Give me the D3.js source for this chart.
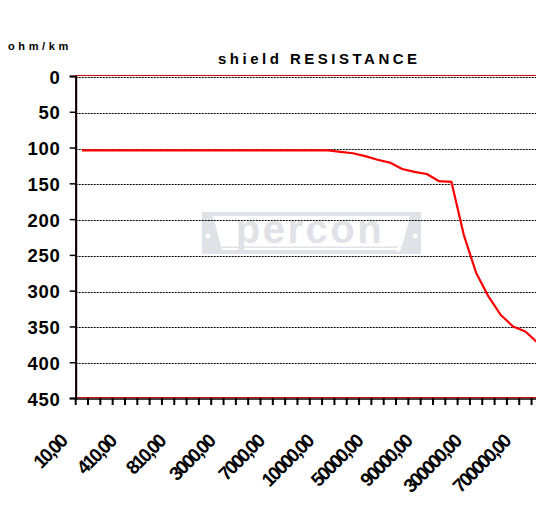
<!DOCTYPE html>
<html>
<head>
<meta charset="utf-8">
<script src="https://cdn.jsdelivr.net/npm/d3@7"></script>
<style>
  html, body { margin: 0; padding: 0; background: #fff; }
  svg { display: block; }
  text { font-family: "Liberation Sans", Arial, sans-serif; font-weight: bold; fill: #000; }
</style>
</head>
<body>
<svg id="chart" width="536" height="508"></svg>
<script>
// ---- data ----
const categories = [10, 110, 210, 310, 410, 510, 610, 710, 810, 900, 1000, 2000, 3000, 4000, 5000, 6000,
  7000, 8000, 9000, 9500, 10000, 20000, 30000, 40000, 50000, 60000, 70000, 80000, 90000,
  100000, 150000, 200000, 300000, 400000, 500000, 600000, 700000, 800000];
const resistance = [104, 104, 104, 104, 104, 104, 104, 104, 104, 104, 104, 104, 104, 104, 104, 104,
  104, 104, 104, 104, 104, 106, 108, 112, 117, 121, 130, 134, 137, 147, 148,
  222, 275, 308, 334, 350, 357, 373];
const yTicks = [0, 50, 100, 150, 200, 250, 300, 350, 400, 450];
const labelEvery = 4;
const title = "shield RESISTANCE";
const unitLabel = "ohm/km";

// ---- layout ----
const W = 536, H = 508;
const plot = { left: 75.7, top: 76, bottom: 398, step: 12.32 };
const svg = d3.select("#chart");
svg.append("rect").attr("width", W).attr("height", H).attr("fill", "#fff");

const idx = categories.map((d, i) => i);
const x = d3.scaleBand().domain(idx)
  .range([plot.left, plot.left + categories.length * plot.step]).padding(0);
const y = d3.scaleLinear().domain([0, 450]).range([plot.top, plot.bottom]);
const plotRight = x.range()[1];

// watermark logo
const wm = svg.append("g").attr("transform", "translate(202,212)");
const wmc = "#dfe2e6";
wm.append("rect").attr("width", 219).attr("height", 42).attr("fill", wmc);
wm.append("path").attr("d", "M11,4 L208,4 L199,38 L20,38 Z").attr("fill", "#fff");
wm.append("text").attr("x", 108).attr("y", 31).attr("text-anchor", "middle")
  .style("font-size", "40px").style("letter-spacing", "2.5px").style("fill", wmc).text("percon");
wm.append("rect").attr("x", 12).attr("y", 34.5).attr("width", 194).attr("height", 1.5).attr("fill", wmc);
wm.append("circle").attr("cx", 6).attr("cy", 24).attr("r", 2.4).attr("fill", "#fff");
wm.append("circle").attr("cx", 213).attr("cy", 24).attr("r", 2.4).attr("fill", "#fff");
wm.append("path").attr("d", "M204,9 L207,9 L197,40 L194,40 Z").attr("fill", "#fff");

// gridlines
svg.append("g").selectAll("line").data(yTicks.filter(d => d < 450)).join("line")
  .attr("x1", plot.left).attr("x2", plotRight)
  .attr("y1", d => Math.round(y(d)) + 1.5).attr("y2", d => Math.round(y(d)) + 1.5)
  .attr("stroke", "#000").attr("stroke-width", 1).attr("stroke-dasharray", "2,1");

// plot border (red)
svg.append("rect").attr("x", plot.left).attr("y", plot.top - 0.5)
  .attr("width", plotRight - plot.left).attr("height", plot.bottom - plot.top)
  .attr("fill", "none").attr("stroke", "#d01010").attr("stroke-width", 1);

// data line
const line = d3.line().x((d, i) => x(i) + x.bandwidth() / 2).y(d => y(d));
svg.append("path").datum(resistance).attr("d", line)
  .attr("fill", "none").attr("stroke", "#ff0000").attr("stroke-width", 2.2)
  .attr("stroke-linejoin", "round");

// y axis
const yAxis = svg.append("g").attr("transform", `translate(${plot.left},0)`)
  .call(d3.axisLeft(y).tickValues(yTicks).tickSize(6).tickPadding(10).tickFormat(d3.format("d")));
yAxis.select(".domain").attr("stroke", "#000").attr("stroke-width", 2);
yAxis.selectAll(".tick line").attr("stroke", "#000").attr("stroke-width", 1.5);
yAxis.selectAll(".tick text").style("font-size", "18.5px").style("letter-spacing", "0.8px")
  .attr("dy", "0.38em").attr("x", -15);

// x axis line and tick marks at category boundaries
svg.append("line").attr("x1", plot.left - 1).attr("x2", plotRight)
  .attr("y1", plot.bottom + 1).attr("y2", plot.bottom + 1)
  .attr("stroke", "#000").attr("stroke-width", 1.5);
svg.append("g").selectAll("line").data(idx).join("line")
  .attr("x1", d => x(d)).attr("x2", d => x(d))
  .attr("y1", plot.bottom).attr("y2", plot.bottom + 7)
  .attr("stroke", "#000").attr("stroke-width", 2);

// x labels
const fmt = v => d3.format(".2f")(v).replace(".", ",");
svg.append("g").selectAll("text").data(idx.filter(i => i % labelEvery === 0)).join("text")
  .attr("transform", d => `translate(${x(d) + x.bandwidth() / 2 - 14},${plot.bottom + 45}) rotate(-45)`)
  .attr("text-anchor", "end")
  .style("font-size", "19px").style("letter-spacing", "-2px")
  .text(d => fmt(categories[d]));

// title and unit
svg.append("text").attr("x", 218).attr("y", 64).style("font-size", "15px")
  .style("letter-spacing", "3.5px").text(title);
svg.append("text").attr("x", 8).attr("y", 50).style("font-size", "11px")
  .style("letter-spacing", "3.6px").text(unitLabel);
</script>
</body>
</html>
